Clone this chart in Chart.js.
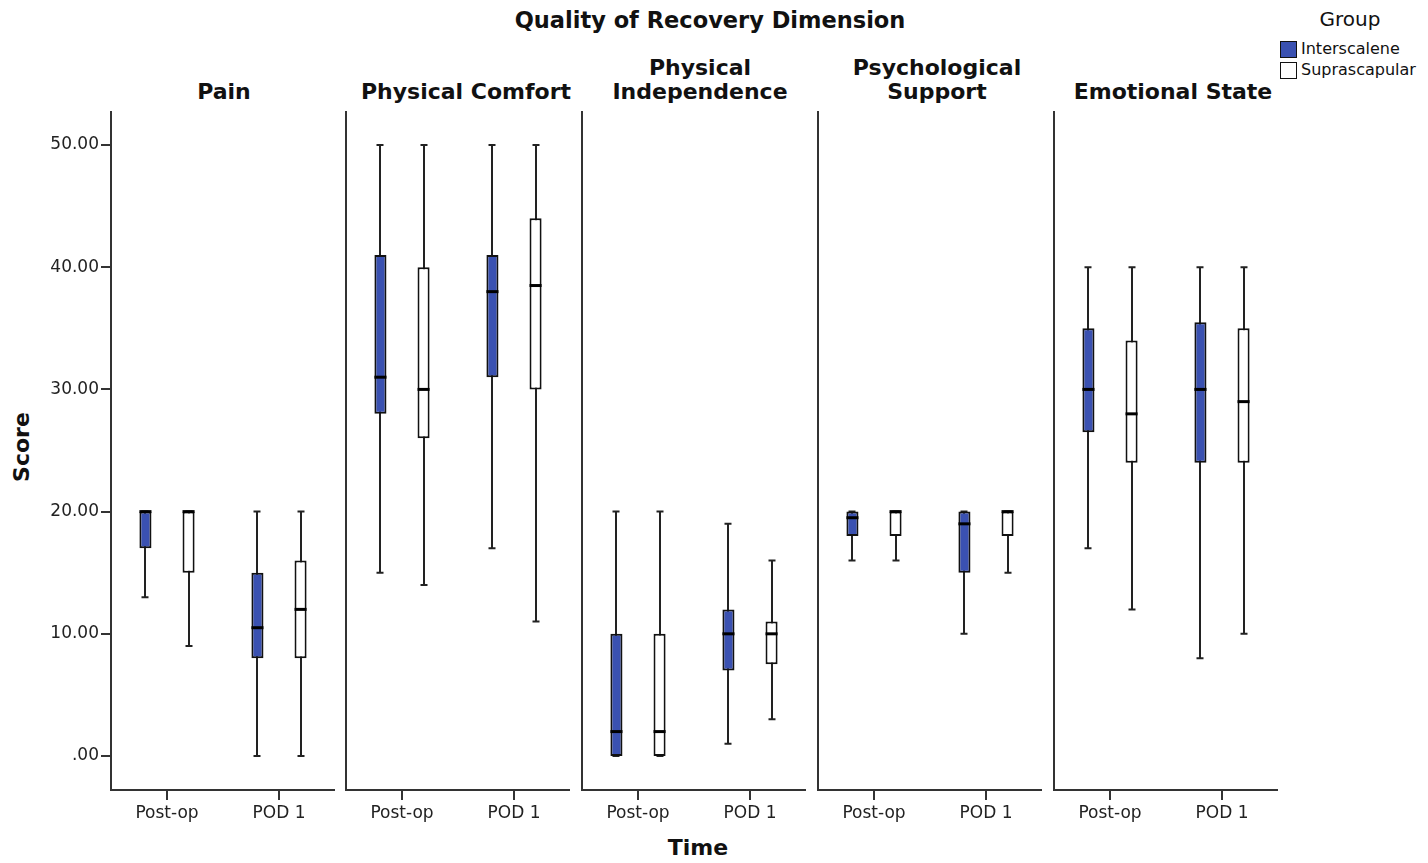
<!DOCTYPE html>
<html>
<head>
<meta charset="utf-8">
<script src="https://cdn.jsdelivr.net/npm/chart.js@4.4.1/dist/chart.umd.min.js"></script>
<style>
  html, body { margin:0; padding:0; background:#fff; }
  #wrap { position:relative; width:1428px; height:863px; overflow:hidden; font-family:"DejaVu Sans", sans-serif; color:#111; }
  .t { position:absolute; font-weight:bold; font-size:22px; line-height:24px; text-align:center; white-space:nowrap; }
  .pt { transform:translate(-50%,-100%); }
  canvas { position:absolute; }
  .lg { position:absolute; font-size:16px; line-height:18px; white-space:nowrap; }
  .sw { position:absolute; width:15px; height:15px; border:1.5px solid #111; }
</style>
</head>
<body>
<div id="wrap">
  <div class="t" style="left:710px; top:8px; font-size:22.5px; transform:translateX(-50%);">Quality of Recovery Dimension</div>
  <div id="titles"></div>
  <div class="t" style="left:22px; top:447px; transform:translate(-50%,-50%) rotate(-90deg);">Score</div>
  <div class="t" style="left:698px; top:848px; transform:translate(-50%,-50%);">Time</div>
  <div class="lg" style="left:1350px; top:8px; font-size:20px; line-height:22px; transform:translateX(-50%);">Group</div>
  <div class="sw" style="left:1280px; top:41px; background:#3a51b1;"></div>
  <div class="lg" style="left:1301px; top:40px;">Interscalene</div>
  <div class="sw" style="left:1280px; top:62px; background:#fff;"></div>
  <div class="lg" style="left:1301px; top:61px;">Suprascapular</div>
</div>
<script>
// ---- data ----
const dimensions = ['Pain', 'Physical Comfort', 'Physical\nIndependence', 'Psychological\nSupport', 'Emotional State'];
const timeLabels = ['Post-op', 'POD 1'];
const groups = ['Interscalene', 'Suprascapular'];
const yTicks = [0, 10, 20, 30, 40, 50];

// Interscalene: per dimension [Post-op, POD 1]
const interMin    = [[13, 0],  [15, 17], [0, 1],  [16, 10],   [17, 8]];
const interQ1     = [[17, 8],  [28, 31], [0, 7],  [18, 15],   [26.5, 24]];
const interMedian = [[20, 10.5],[31, 38],[2, 10], [19.5, 19], [30, 30]];
const interQ3     = [[20, 15], [41, 41], [10, 12],[20, 20],   [35, 35.5]];
const interMax    = [[20, 20], [50, 50], [20, 19],[20, 20],   [40, 40]];

// Suprascapular: per dimension [Post-op, POD 1]
const supraMin    = [[9, 0],   [14, 11], [0, 3],  [16, 15],   [12, 10]];
const supraQ1     = [[15, 8],  [26, 30], [0, 7.5],[18, 18],   [24, 24]];
const supraMedian = [[20, 12], [30, 38.5],[2, 10],[20, 20],   [28, 29]];
const supraQ3     = [[20, 16], [40, 44], [10, 11],[20, 20],   [34, 35]];
const supraMax    = [[20, 20], [50, 50], [20, 16],[20, 20],   [40, 40]];

// ---- layout / style ----
const BLUE = '#3a51b1';
const AXIS = '#333';
const panelLefts = [111, 346, 582, 818, 1054];
const titleCenters = [224, 466, 700, 937, 1173];
const plotW = 224;
const topY = 107, canvasH = 723, xAxisH = 40;

const groupStats = [
  {min: interMin, q1: interQ1, med: interMedian, q3: interQ3, max: interMax},
  {min: supraMin, q1: supraQ1, med: supraMedian, q3: supraQ3, max: supraMax}
];

const boxPlugin = {
  id: 'boxwhisker',
  beforeDatasetsDraw(chart, args, opts) {
    const ctx = chart.ctx, y = chart.scales.y;
    chart.data.datasets.forEach((ds, d) => {
      const s = groupStats[d];
      chart.getDatasetMeta(d).data.forEach((bar, j) => {
        const x = Math.round(bar.x);
        const lo = y.getPixelForValue(s.min[opts.panel][j]);
        const hi = y.getPixelForValue(s.max[opts.panel][j]);
        ctx.save();
        ctx.strokeStyle = '#222';
        ctx.lineWidth = 2;
        ctx.beginPath();
        ctx.moveTo(x, lo); ctx.lineTo(x, hi);
        ctx.moveTo(x - 3.5, lo); ctx.lineTo(x + 3.5, lo);
        ctx.moveTo(x - 3.5, hi); ctx.lineTo(x + 3.5, hi);
        ctx.stroke();
        ctx.restore();
      });
    });
  },
  afterDatasetsDraw(chart, args, opts) {
    const ctx = chart.ctx, y = chart.scales.y;
    chart.data.datasets.forEach((ds, d) => {
      const s = groupStats[d];
      chart.getDatasetMeta(d).data.forEach((bar, j) => {
        const m = y.getPixelForValue(s.med[opts.panel][j]);
        const hw = bar.width / 2;
        ctx.save();
        ctx.strokeStyle = '#000';
        ctx.lineWidth = 3;
        ctx.beginPath();
        ctx.moveTo(bar.x - hw, m); ctx.lineTo(bar.x + hw, m);
        ctx.stroke();
        ctx.restore();
      });
    });
  }
};

const wrap = document.getElementById('wrap');
const titles = document.getElementById('titles');

function zeroPad(scale) {
  scale.paddingTop = 0; scale.paddingBottom = 0;
  scale.paddingLeft = 0; scale.paddingRight = 0;
}

dimensions.forEach((dim, i) => {
  const tdiv = document.createElement('div');
  tdiv.className = 't pt';
  tdiv.style.left = titleCenters[i] + 'px';
  tdiv.style.top = '104px';
  tdiv.innerHTML = dim.split('\n').join('<br>');
  titles.appendChild(tdiv);

  const yW = i === 0 ? 111 : 4;
  const cv = document.createElement('canvas');
  const left = panelLefts[i] - yW;
  const w = yW + plotW;
  cv.width = w; cv.height = canvasH;
  cv.style.left = left + 'px'; cv.style.top = topY + 'px';
  cv.style.width = w + 'px'; cv.style.height = canvasH + 'px';
  wrap.appendChild(cv);

  new Chart(cv, {
    type: 'bar',
    data: {
      labels: timeLabels,
      datasets: groupStats.map((s, d) => ({
        label: groups[d],
        data: timeLabels.map((t, j) => [s.q1[i][j], s.q3[i][j]]),
        backgroundColor: d === 0 ? BLUE : '#ffffff',
        borderColor: '#111',
        borderWidth: 2,
        borderSkipped: false,
        categoryPercentage: 0.77,
        barPercentage: 0.28
      }))
    },
    options: {
      responsive: false,
      animation: false,
      devicePixelRatio: 1,
      layout: { padding: { top: 5, right: 0, left: 0, bottom: 0 } },
      plugins: { legend: { display: false }, tooltip: { enabled: false }, boxwhisker: { panel: i } },
      scales: {
        x: {
          afterFit(scale) { scale.height = xAxisH; zeroPad(scale); },
          grid: { display: true, drawOnChartArea: false, drawTicks: true, tickLength: 10, offset: false, color: AXIS, lineWidth: 2 },
          border: { display: true, color: AXIS, width: 2 },
          ticks: { color: '#222', font: { family: 'DejaVu Sans', size: 17 }, padding: 3, maxRotation: 0 }
        },
        y: {
          min: -2.78, max: 52.7,
          afterFit(scale) { scale.width = yW; zeroPad(scale); },
          afterBuildTicks(scale) { scale.ticks = yTicks.map(v => ({ value: v })); },
          grid: { display: i === 0, drawOnChartArea: false, drawTicks: true, tickLength: 10, color: AXIS, lineWidth: 2 },
          border: { display: true, color: AXIS, width: 2 },
          ticks: {
            display: i === 0,
            color: '#222',
            font: { family: 'DejaVu Sans', size: 17 },
            padding: 2,
            callback: (v) => v === 0 ? '.00' : Number(v).toFixed(2)
          }
        }
      }
    },
    plugins: [boxPlugin]
  });
});
</script>
</body>
</html>
